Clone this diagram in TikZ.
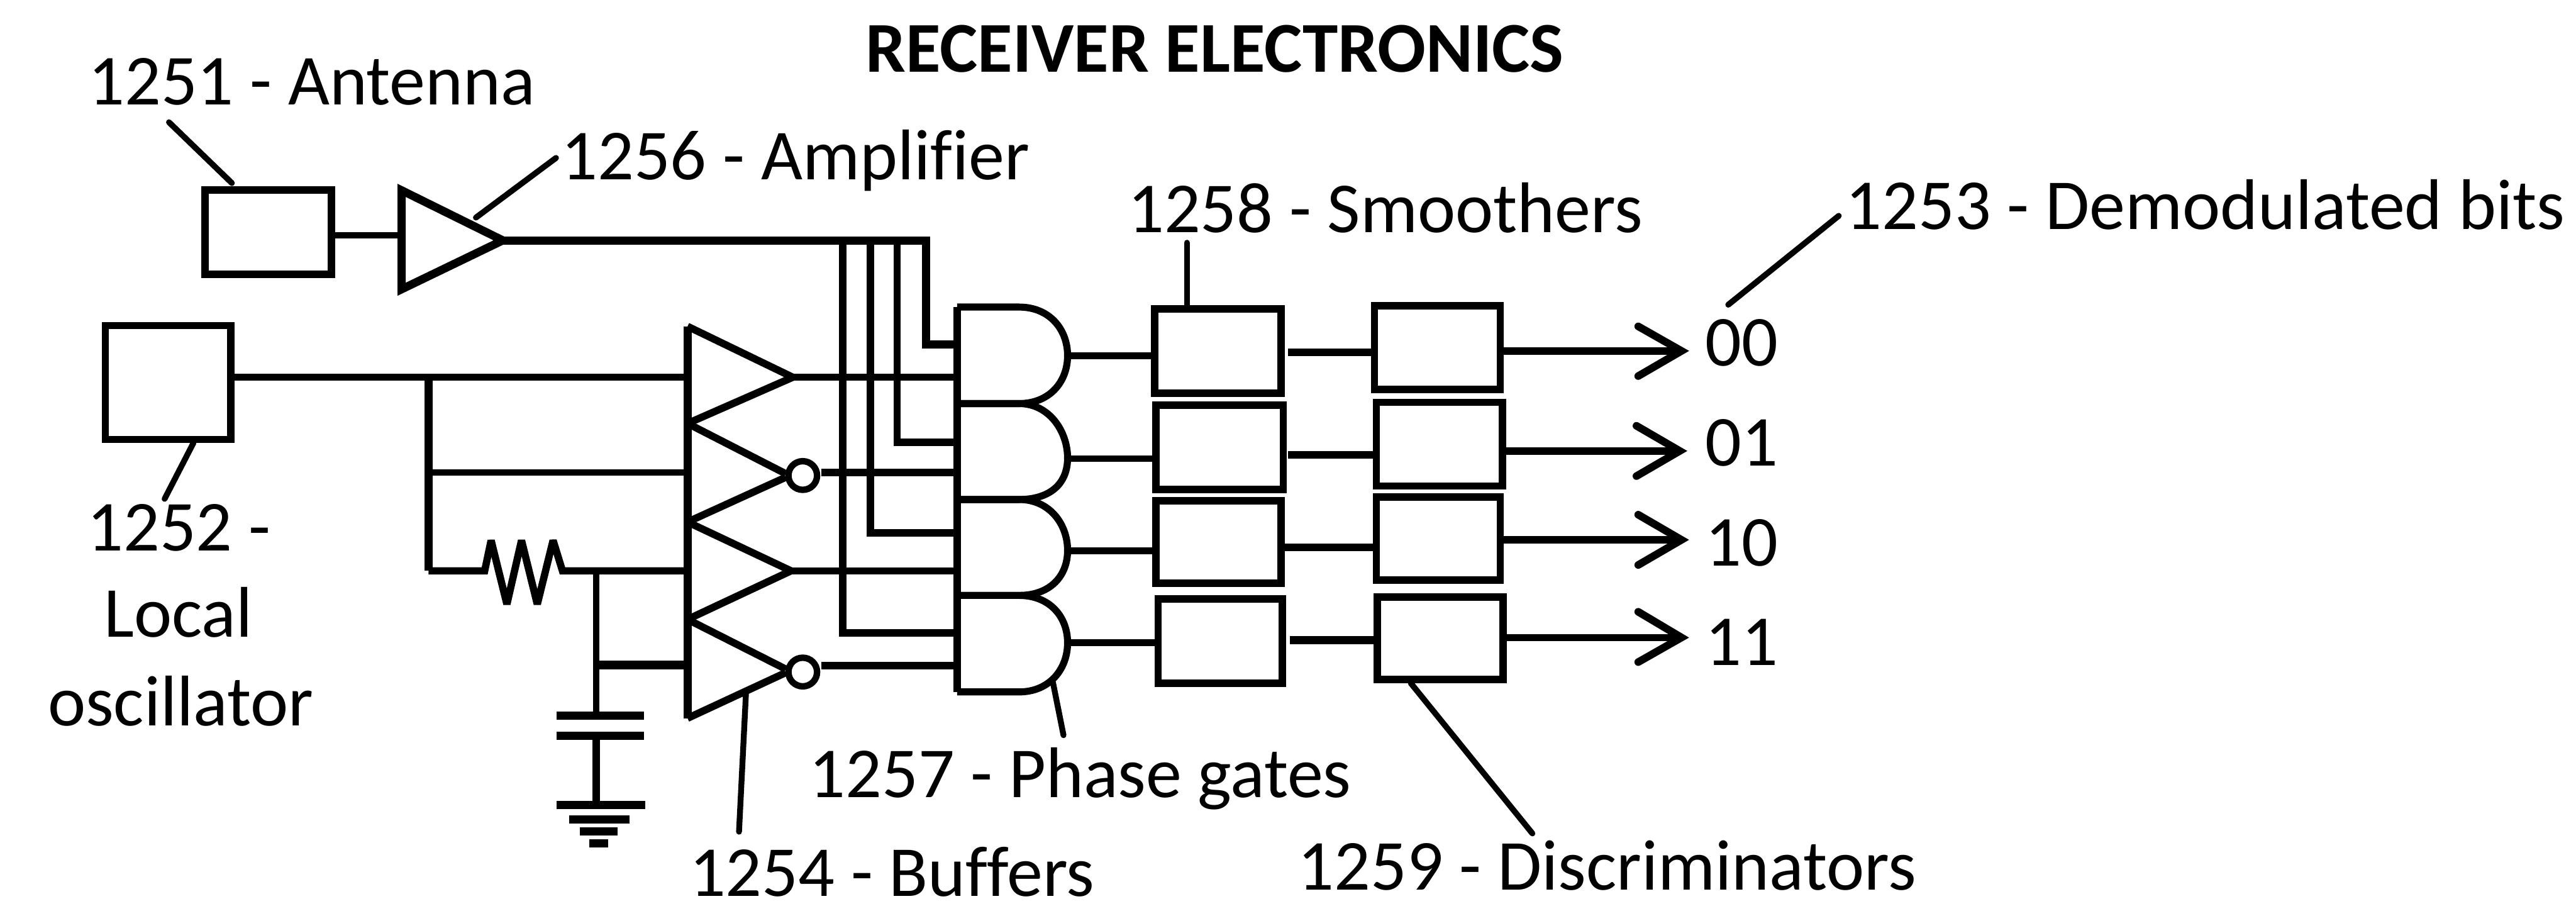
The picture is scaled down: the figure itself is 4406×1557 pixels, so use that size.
\documentclass[tikz,border=0pt]{standalone}
\usepackage{fontspec}
\setmainfont{Carlito}[Ligatures=CommonOff]
\tikzset{
  x=0.1mm,y=-0.1mm,
  wire/.style={draw,line width=1.25mm,line join=miter,line cap=butt},
  heavy/.style={draw,line width=1.5mm,line cap=butt},
  lead/.style={draw,line width=1.0mm,line cap=round},
  blockbox/.style={draw,line width=1.25mm,rectangle,inner sep=0pt,outer sep=0pt,line join=miter},
  bubble/.style={draw,line width=1.1mm,circle,minimum size=4.9mm,inner sep=0pt,outer sep=0pt},
  lab/.style={font=\fontsize{34.9}{42}\selectfont,inner sep=0pt,outer sep=0pt,anchor=base west},
  clab/.style={font=\fontsize{34.9}{42}\selectfont,inner sep=0pt,outer sep=0pt,anchor=base},
  ttl/.style={font=\fontsize{34.8}{42}\selectfont\bfseries,inner sep=0pt,outer sep=0pt,anchor=base west},
}
% AND gate: x-range fixed, top, mid, bottom
\newcommand{\andgate}[3]{%
  \draw[wire,line width=1.2mm,miter limit=4] (1637,#1) -- (1743,#1)
    .. controls (1795,#1) and (1826,#2-45) .. (1826,#2)
    .. controls (1826,#2+45) and (1795,#3) .. (1743,#3) -- (1637,#3);}
\begin{document}
\begin{tikzpicture}
\useasboundingbox (0,0) rectangle (4406,1557);
\fill[white] (0,0) rectangle (4406,1557);

% blocks
\node[blockbox,minimum width=21.6mm,minimum height=14.4mm] (ant) at (459,397) {};
\node[blockbox,minimum width=21.5mm,minimum height=19.45mm] (osc) at (287.5,654) {};
\node[blockbox,minimum width=21.6mm,minimum height=14.4mm] (s1) at (2083,600) {};
\node[blockbox,minimum width=21.8mm,minimum height=14.4mm] (s2) at (2086,765) {};
\node[blockbox,minimum width=21.4mm,minimum height=14.1mm] (s3) at (2084,926.5) {};
\node[blockbox,minimum width=21.2mm,minimum height=14.4mm] (s4) at (2087,1096) {};
\node[blockbox,minimum width=21.5mm,minimum height=14.3mm] (d1) at (2458.5,594.5) {};
\node[blockbox,minimum width=21.6mm,minimum height=14.3mm] (d2) at (2462,759.5) {};
\node[blockbox,minimum width=21.2mm,minimum height=14.2mm] (d3) at (2460,921) {};
\node[blockbox,minimum width=21.5mm,minimum height=14.1mm] (d4) at (2463.5,1091.5) {};

% amplifier
\coordinate (ampin) at (687,402);
\coordinate (amptip) at (852,411);
\draw[wire,line width=1.4mm] (687,325.5) -- (860,411) -- (687,494.5) -- cycle;
\draw[wire,line width=1.1mm] (ant.east |- ampin) -- (ampin);

% RF bus
\coordinate (c1) at (1441.6,411);
\coordinate (c2) at (1489,411);
\coordinate (c3) at (1534.6,411);
\coordinate (c4) at (1584,411);
\draw[wire,line width=1.4mm] (amptip) -- (c4) -- (1584,589) -- (1637,589);
\draw[wire] (c3) -- (1534.6,756) -- (1637,756);
\draw[wire] (c2) -- (1489,911) -- (1637,911);
\draw[wire] (c1) -- (1441.6,1082) -- (1637,1082);

% oscillator network
\coordinate (j1) at (733,645);
\coordinate (j2) at (733,808);
\coordinate (j3) at (733,976);
\coordinate (rl) at (829,976);
\coordinate (rr) at (962,976);
\coordinate (j4) at (1020,976);
\coordinate (j5) at (1020,1137);
\coordinate (bi1) at (1176,645);
\coordinate (bi2) at (1176,808);
\coordinate (bi3) at (1176,976);
\coordinate (bi4) at (1176,1137);
\draw[wire,line width=1.15mm] (osc.east |- j1) -- (bi1);
\draw[wire,line width=1.4mm] (j1) -- (j3);
\draw[wire,line width=1.1mm] (j2) -- (bi2);
\draw[wire,line width=1.25mm,miter limit=2] (j3) -- (rl) -- (840,924) -- (867,1033) -- (892,924) -- (919,1033) -- (946,924) -- (rr) -- (bi3);
\draw[wire,line width=1.1mm] (j4) -- (1020,1224);
\draw[heavy] (j5) -- (bi4);

% capacitor and ground
\coordinate (cp1) at (1020,1224);
\coordinate (cp2) at (1020,1258);
\coordinate (g1) at (1020,1376);
\draw[wire,line width=1.4mm] (952,1224) -- (1101,1224);
\draw[wire,line width=1.4mm] (952,1258) -- (1101,1258);
\draw[wire,line width=1.3mm] (cp2) -- (g1);
\draw[wire,line width=1.4mm] (952,1376) -- (1104,1376);
\draw[wire,line width=1.4mm] (973,1401) -- (1077,1401);
\draw[wire,line width=1.4mm] (992,1421) -- (1056,1421);
\draw[wire,line width=1.4mm] (1008,1442) -- (1040,1442);

% buffers
\draw[wire,line width=1.25mm,miter limit=3] (1176,558) -- (1356,645) -- (1176,724);
\draw[wire,line width=1.25mm] (1344,810) -- (1176,724);
\draw[wire,line width=1.25mm] (1344,816) -- (1176,892.5);
\draw[wire,line width=1.25mm,miter limit=3] (1176,892.5) -- (1353,976) -- (1176,1059);
\draw[wire,line width=1.25mm] (1344,1144) -- (1176,1059);
\draw[wire,line width=1.25mm] (1344,1150) -- (1176,1228);
\draw[wire,line width=1.4mm,line cap=square] (1176,558) -- (1176,1228);
\node[bubble] (b2) at (1373,813) {};
\node[bubble] (b4) at (1373,1149) {};

% gates
\andgate{525}{608}{690}
\andgate{690}{783}{854}
\andgate{854}{941}{1018}
\andgate{1018}{1099}{1183}
\draw[wire,line width=1.3mm,line cap=square] (1637,525) -- (1637,1183);

% buffer to gate
\draw[wire] (1352,645) -- (1637,645);
\draw[wire] (1405,808) -- (1637,808);
\draw[wire] (1352,976) -- (1637,976);
\draw[wire] (1405,1138) -- (1637,1138);

% gate to smoother
\coordinate (o1) at (1826,608);
\coordinate (o2) at (1826,784);
\coordinate (o3) at (1826,942);
\coordinate (o4) at (1826,1099);
\draw[wire,line width=1.15mm] (o1) -- (o1 -| s1.west);
\draw[wire,line width=1.15mm] (o2) -- (o2 -| s2.west);
\draw[wire,line width=1.15mm] (o3) -- (o3 -| s3.west);
\draw[wire,line width=1.15mm] (o4) -- (o4 -| s4.west);

% smoother to discriminator
\coordinate (m1) at (2203,602.5);
\coordinate (m2) at (2203,778);
\coordinate (m3) at (2191,936);
\coordinate (m4) at (2206.5,1095);
\draw[wire] (m1) -- (m1 -| d1.west);
\draw[wire] (m2) -- (m2 -| d2.west);
\draw[wire] (m3) -- (m3 -| d3.west);
\draw[wire,line width=1.4mm] (m4) -- (m4 -| d4.west);

% outputs
\coordinate (t1) at (2876,600);
\coordinate (t2) at (2873,771);
\coordinate (t3) at (2876,923);
\coordinate (t4) at (2876,1090);
\draw[wire] (d1.east |- t1) -- (t1);
\draw[wire] (d2.east |- t2) -- (t2);
\draw[wire] (d3.east |- t3) -- (t3);
\draw[wire] (d4.east |- t4) -- (t4);
\draw[wire,line width=1.3mm,line cap=round] (2802,558) -- (t1) -- (2802,643);
\draw[wire,line width=1.3mm,line cap=round] (2799,728) -- (t2) -- (2799,814);
\draw[wire,line width=1.3mm,line cap=round] (2802,880) -- (t3) -- (2802,966);
\draw[wire,line width=1.3mm,line cap=round] (2802,1046) -- (t4) -- (2802,1132);

% labels
\node[ttl] (title) at (1481,123) {RECEIVER ELECTRONICS};
\node[lab] (l1251) at (151,179.5) {1251 - Antenna};
\node[lab] (l1256) at (960,307) {1256 - Amplifier};
\node[lab] (l1258) at (1929,397.6) {1258 - Smoothers};
\node[lab] (l1253) at (3157,392) {1253 - Demodulated bits};
\node[clab] (l1252a) at (306,942) {1252 -};
\node[clab] (l1252b) at (305,1089) {Local};
\node[clab] (l1252c) at (309,1241) {oscillator};
\node[lab] (l1257) at (1384,1363) {1257 - Phase gates};
\node[lab] (l1254) at (1179,1532) {1254 - Buffers};
\node[lab] (l1259) at (2220,1521) {1259 - Discriminators};
\node[lab] (b00) at (2917,626) {00};
\node[lab] (b01) at (2917,797) {01};
\node[lab] (b10) at (2917,967.5) {10};
\node[lab] (b11) at (2917,1138) {11};

% leaders
\coordinate (k51) at (289,209);
\coordinate (k56) at (951,270);
\coordinate (k52) at (281.5,853);
\coordinate (k53) at (3145,369);
\coordinate (k58) at (2030,415);
\coordinate (k57) at (1819,1257);
\coordinate (k54) at (1264,1422);
\coordinate (k59) at (2621,1425);
\draw[lead] (k51) -- (396.6,313);
\draw[lead] (k56) -- (814,372);
\draw[lead] (k52) -- (331,757);
\draw[lead] (k53) -- (2956,521);
\draw[lead] (k58) -- (k58 |- s1.north);
\draw[lead] (k57) -- (1801,1167);
\draw[lead] (k54) -- (1276,1183);
\draw[lead] (k59) -- (2413,1168);
\end{tikzpicture}
\end{document}
